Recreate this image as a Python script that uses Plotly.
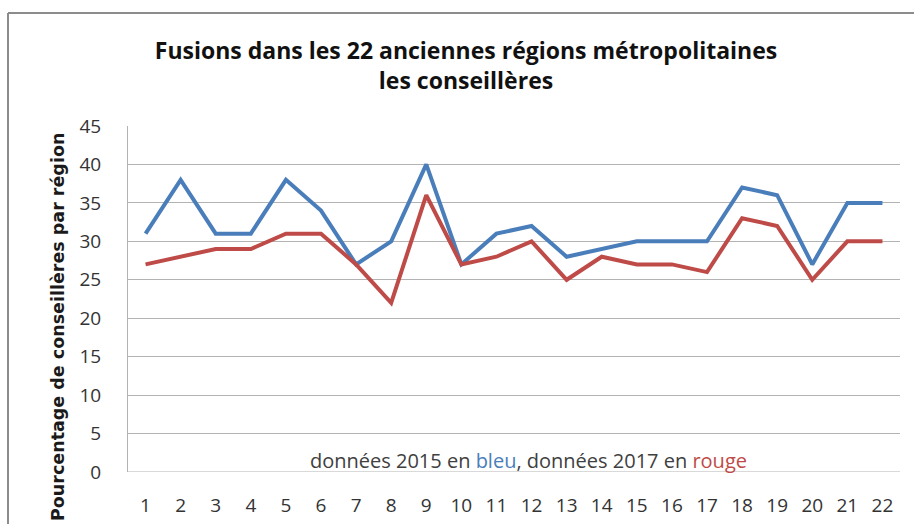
import plotly.graph_objects as go

regions = [str(i) for i in range(1, 23)]
bleu_2015 = [31, 38, 31, 31, 38, 34, 27, 30, 40, 27, 31, 32, 28, 29, 30, 30, 30, 37, 36, 27, 35, 35]
rouge_2017 = [27, 28, 29, 29, 31, 31, 27, 22, 36, 27, 28, 30, 25, 28, 27, 27, 26, 33, 32, 25, 30, 30]
y_ticks = list(range(0, 46, 5))

BLUE = "#4A7EBB"
RED = "#BE4B48"

fig = go.Figure()
fig.add_trace(go.Scatter(x=regions, y=bleu_2015, mode="lines",
                         line=dict(color=BLUE, width=4), name="2015"))
fig.add_trace(go.Scatter(x=regions, y=rouge_2017, mode="lines",
                         line=dict(color=RED, width=4), name="2017"))

L, R, T, B = 128, 14, 126, 52
W, H = 914, 524
pw, ph = W - L - R, H - T - B

def px_x(x):
    return (x - L) / pw

def px_y(y):
    return (H - B - y) / ph

fig.update_layout(
    width=W, height=H,
    margin=dict(l=L, r=R, t=T, b=B),
    paper_bgcolor="white", plot_bgcolor="white",
    showlegend=False,
    title=dict(
        text="<b>Fusions dans les 22 anciennes régions métropolitaines<br>les conseillères</b>",
        x=466 / W, xanchor="center", y=1 - 59 / H, yanchor="middle",
        font=dict(family="Open Sans", size=23, color="#111111"),
    ),
    xaxis=dict(
        type="category", range=[-0.5, 21.5], showgrid=False, zeroline=False,
        showline=False, ticks="", automargin=False,
        tickfont=dict(family="Open Sans", size=19, color="#333333"),
        ticklabelstandoff=20,
    ),
    yaxis=dict(
        range=[0, 45], tickvals=y_ticks, showgrid=True, gridcolor="#B3B3B3",
        gridwidth=1, zeroline=False, showline=True, linecolor="#B3B3B3",
        ticks="", automargin=False,
        tickfont=dict(family="Open Sans", size=19, color="#333333"),
        ticklabelstandoff=22,
    ),
    shapes=[
        dict(type="line", xref="paper", yref="paper", x0=px_x(8), x1=px_x(916),
             y0=px_y(13), y1=px_y(13), line=dict(color="#8C8C8C", width=2)),
        dict(type="line", xref="paper", yref="paper", x0=px_x(8), x1=px_x(8),
             y0=px_y(13), y1=px_y(530), line=dict(color="#8C8C8C", width=2)),
        dict(type="line", xref="paper", yref="y", x0=0, x1=1, y0=0, y1=0,
             line=dict(color="#B3B3B3", width=1), layer="below"),
    ],
    annotations=[
        dict(text="<b>Pourcentage de conseillères par région</b>", textangle=-90,
             xref="paper", yref="paper", x=px_x(58), y=px_y(327),
             xanchor="center", yanchor="middle", showarrow=False,
             font=dict(family="DejaVu Sans", size=17.5, color="#1a1a1a")),
        dict(text="données 2015 en <span style='color:#4A7EBB'>bleu</span>, données 2017 en "
                  "<span style='color:#BE4B48'>rouge</span>",
             xref="paper", yref="paper", x=px_x(528), y=px_y(460),
             xanchor="center", yanchor="middle", showarrow=False,
             font=dict(family="Open Sans", size=20, color="#404040")),
    ],
)

fig.write_html("out.html", config={"displayModeBar": False},
               post_script="document.body.style.margin='0';document.body.style.overflow='hidden';")
